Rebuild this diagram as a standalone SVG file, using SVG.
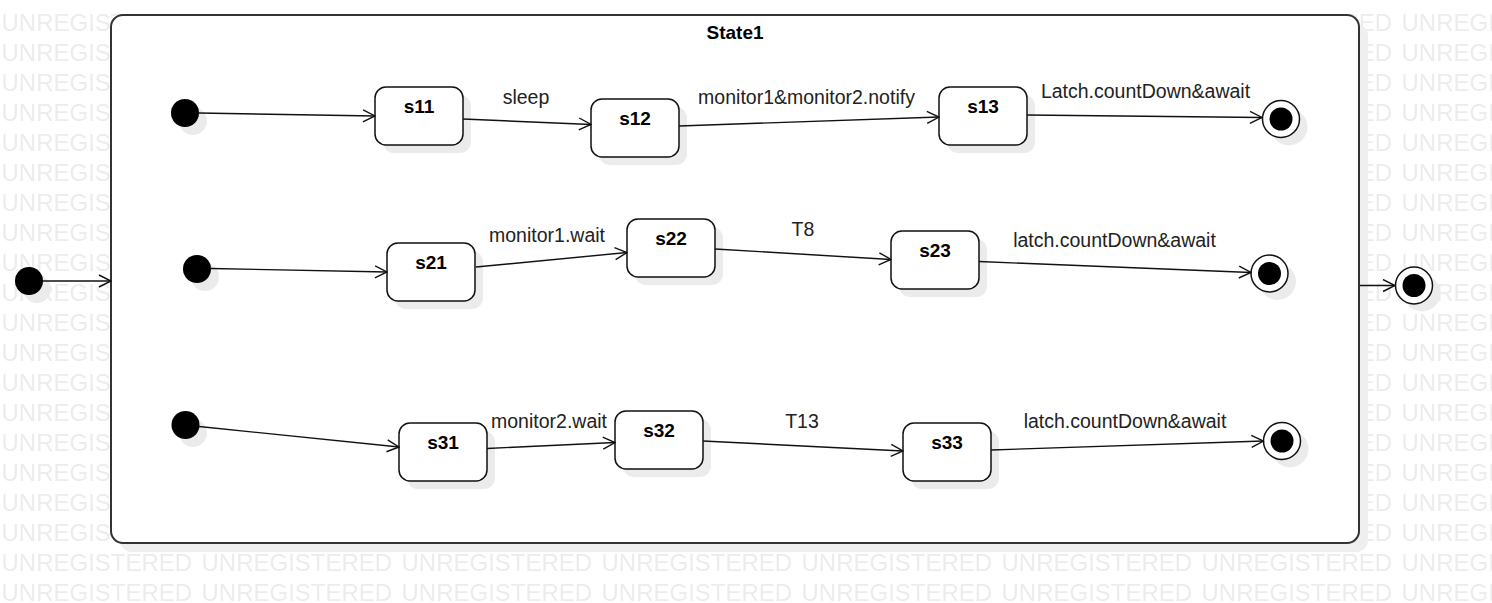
<svg xmlns="http://www.w3.org/2000/svg" width="1492" height="603" viewBox="0 0 1492 603">
<style>
.wm{font-family:"Liberation Sans",Arial,sans-serif;font-size:24px;fill:#ececec}
.st{fill:#fff;stroke:#111;stroke-width:1.5}
.sh{fill:#ebebeb}
.nm{font-family:"Liberation Sans",Arial,sans-serif;font-size:19px;font-weight:bold;fill:#000;text-anchor:middle}
.lb{font-family:"Liberation Sans",Arial,sans-serif;font-size:19.5px;fill:#222;text-anchor:middle}
.ln{fill:none;stroke:#111;stroke-width:1.4;marker-end:url(#arr)}
.ini{fill:#000}
.fo{fill:#fff;stroke:#111;stroke-width:1.5}
</style>
<defs>
<marker id="arr" markerUnits="userSpaceOnUse" markerWidth="14" markerHeight="14" refX="13" refY="7" orient="auto" viewBox="0 0 14 14">
<path d="M1,1 L13,7 L1,13" fill="none" stroke="#111" stroke-width="1.4"/>
</marker>
<pattern id="wmp" patternUnits="userSpaceOnUse" x="0" y="1" width="200" height="30">
<text class="wm" x="1.5" y="30">UNREGISTERED</text>
</pattern>
</defs>
<rect width="1492" height="603" fill="#fff"/>
<rect x="0" y="8" width="1492" height="595" fill="url(#wmp)"/>

<g id="State1">
<rect x="120" y="24" width="1248" height="528" rx="12" fill="#efefef"/>
<rect x="111" y="15" width="1248" height="528" rx="12" fill="#fff" stroke="#333" stroke-width="2"/>
<text class="nm" x="735" y="39">State1</text>
</g>

<g id="init0"><circle cx="37" cy="289" r="14" class="sh"/><circle cx="29" cy="281" r="14" class="ini"/></g>
<g id="final0"><circle cx="1422" cy="293" r="18.5" class="sh"/><circle cx="1414" cy="285.5" r="18.5" class="fo"/><circle cx="1414" cy="285.5" r="11.5" class="ini"/></g>

<g id="init1"><circle cx="193" cy="121" r="14" class="sh"/><circle cx="185" cy="113" r="14" class="ini"/></g>
<g id="init2"><circle cx="205" cy="277" r="14" class="sh"/><circle cx="197" cy="269" r="14" class="ini"/></g>
<g id="init3"><circle cx="193" cy="433" r="14" class="sh"/><circle cx="185.5" cy="425" r="14" class="ini"/></g>

<g id="s11"><rect x="383" y="95" width="88" height="58" rx="11" class="sh"/><rect x="375" y="87" width="88" height="58" rx="11" class="st"/><text class="nm" x="419" y="112.5">s11</text></g>
<g id="s12"><rect x="599" y="107" width="88" height="58" rx="11" class="sh"/><rect x="591" y="99" width="88" height="58" rx="11" class="st"/><text class="nm" x="635" y="124.5">s12</text></g>
<g id="s13"><rect x="947" y="95" width="88" height="58" rx="11" class="sh"/><rect x="939" y="87" width="88" height="58" rx="11" class="st"/><text class="nm" x="983" y="112.5">s13</text></g>
<g id="s21"><rect x="395" y="251" width="88" height="58" rx="11" class="sh"/><rect x="387" y="243" width="88" height="58" rx="11" class="st"/><text class="nm" x="431" y="268.5">s21</text></g>
<g id="s22"><rect x="635" y="227" width="88" height="58" rx="11" class="sh"/><rect x="627" y="219" width="88" height="58" rx="11" class="st"/><text class="nm" x="671" y="244.5">s22</text></g>
<g id="s23"><rect x="899" y="239" width="88" height="58" rx="11" class="sh"/><rect x="891" y="231" width="88" height="58" rx="11" class="st"/><text class="nm" x="935" y="256.5">s23</text></g>
<g id="s31"><rect x="407" y="431" width="88" height="58" rx="11" class="sh"/><rect x="399" y="423" width="88" height="58" rx="11" class="st"/><text class="nm" x="443" y="448.5">s31</text></g>
<g id="s32"><rect x="623" y="419" width="88" height="58" rx="11" class="sh"/><rect x="615" y="411" width="88" height="58" rx="11" class="st"/><text class="nm" x="659" y="436.5">s32</text></g>
<g id="s33"><rect x="911" y="431" width="88" height="58" rx="11" class="sh"/><rect x="903" y="423" width="88" height="58" rx="11" class="st"/><text class="nm" x="947" y="448.5">s33</text></g>

<g id="final1"><circle cx="1289" cy="127" r="18.5" class="sh"/><circle cx="1281" cy="119" r="18.5" class="fo"/><circle cx="1281" cy="119" r="11.5" class="ini"/></g>
<g id="final2"><circle cx="1277.5" cy="281.5" r="18.5" class="sh"/><circle cx="1269.5" cy="273.5" r="18.5" class="fo"/><circle cx="1269.5" cy="273.5" r="11.5" class="ini"/></g>
<g id="final3"><circle cx="1290" cy="449" r="18.5" class="sh"/><circle cx="1282" cy="441" r="18.5" class="fo"/><circle cx="1282" cy="441" r="11.5" class="ini"/></g>

<g id="connectors">
<line class="ln" x1="43" y1="281" x2="111" y2="281"/>
<line class="ln" x1="1360" y1="285.5" x2="1395" y2="285.5"/>
<line class="ln" x1="199" y1="113" x2="375" y2="116"/>
<line class="ln" x1="463" y1="119" x2="591" y2="124.5"/>
<line class="ln" x1="679" y1="126" x2="939" y2="117"/>
<line class="ln" x1="1027" y1="115" x2="1262" y2="117.5"/>
<line class="ln" x1="211" y1="268.5" x2="387" y2="272"/>
<line class="ln" x1="476" y1="267" x2="627" y2="252.5"/>
<line class="ln" x1="715" y1="249" x2="891" y2="259.5"/>
<line class="ln" x1="979" y1="261.5" x2="1251" y2="272.5"/>
<line class="ln" x1="199" y1="426.5" x2="399" y2="447"/>
<line class="ln" x1="487" y1="448.5" x2="615" y2="442.5"/>
<line class="ln" x1="703" y1="441" x2="903" y2="451"/>
<line class="ln" x1="991" y1="450" x2="1263.5" y2="441"/>
<text class="lb" x="526" y="104">sleep</text>
<text class="lb" x="806.5" y="104">monitor1&amp;monitor2.notify</text>
<text class="lb" x="1145.5" y="98">Latch.countDown&amp;await</text>
<text class="lb" x="547" y="242">monitor1.wait</text>
<text class="lb" x="803" y="236">T8</text>
<text class="lb" x="1114.5" y="247">latch.countDown&amp;await</text>
<text class="lb" x="549" y="428">monitor2.wait</text>
<text class="lb" x="802" y="428">T13</text>
<text class="lb" x="1125" y="428">latch.countDown&amp;await</text>
</g>
</svg>
